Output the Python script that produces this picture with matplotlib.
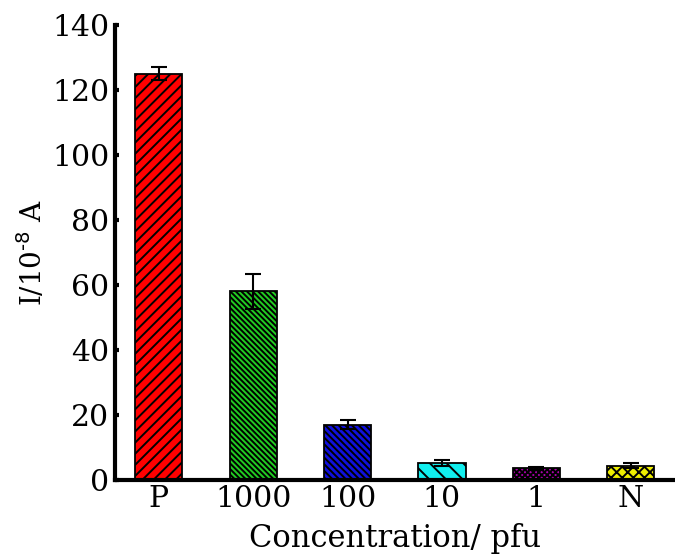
import matplotlib
matplotlib.use("Agg")
import matplotlib.pyplot as plt
import numpy as np

# データ
labels = ["P", "1000", "100", "10", "1", "N"]
values = [125, 58, 17, 5.3, 3.5, 4.4]
errors = [2.0, 5.5, 1.3, 0.9, 0.5, 0.9]
colors = ["#ff0000", "#22cc22", "#1010dd", "#11eeee", "#aa00aa", "#eeee00"]
hatches = ["///", "\\\\\\\\\\\\", "\\\\\\\\\\", "\\\\", "xxxxxx", "xxx"]

plt.rcParams["font.family"] = "DejaVu Serif"
plt.rcParams["hatch.linewidth"] = 1.4

fig = plt.figure(figsize=(6.75, 5.56), dpi=100)
ax = fig.add_axes([0.170, 0.137, 0.830, 0.818])

x = np.arange(len(labels))
for i in range(len(labels)):
    ax.bar(x[i], values[i], width=0.5, color=colors[i], edgecolor="black",
           linewidth=1.3, hatch=hatches[i], zorder=2)
ax.errorbar(x, values, yerr=errors, fmt="none", ecolor="black",
            elinewidth=1.5, capsize=6, capthick=1.5, zorder=3)

ax.set_xlim(-0.467, 5.47)
ax.set_ylim(0, 140)
ax.set_yticks(np.arange(0, 141, 20))
ax.set_xticks(x)
ax.set_xticklabels(labels)

for s in ["top", "right"]:
    ax.spines[s].set_visible(False)
for s in ["left", "bottom"]:
    ax.spines[s].set_linewidth(3)

ax.tick_params(axis="both", direction="in", length=3, width=3, labelsize=21.5, pad=4)

ax.set_xlabel("Concentration/ pfu", fontsize=22, labelpad=7)
ax.set_ylabel(r"I/10$^{\text{-8}}$ A", fontsize=20, labelpad=3)

plt.savefig("out.png", dpi=100)
